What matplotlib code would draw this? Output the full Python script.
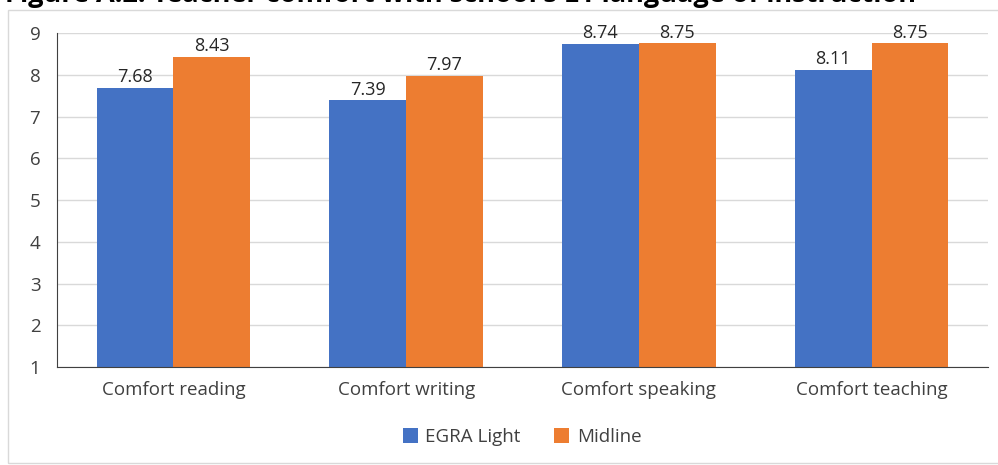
import numpy as np
import matplotlib.pyplot as plt
from matplotlib.patches import Rectangle

categories = ['Comfort reading', 'Comfort writing', 'Comfort speaking', 'Comfort teaching']
egra_light = [7.68, 7.39, 8.74, 8.11]
midline = [8.43, 7.97, 8.75, 8.75]
yticks = [1, 2, 3, 4, 5, 6, 7, 8, 9]

blue = '#4472c4'
orange = '#ed7d31'
plt.rcParams['font.family'] = ['Open Sans', 'DejaVu Sans']

fig = plt.figure(figsize=(9.98, 4.65), dpi=100)
ax = fig.add_axes([57 / 998, 1 - 367 / 465, (988 - 57) / 998, (367 - 33) / 465])

# chart frame
fig.patches.append(Rectangle((8 / 998, 0.005), 1.0, 1 - 10 / 465 - 0.005,
                             transform=fig.transFigure, fill=False,
                             edgecolor='#d9d9d9', linewidth=1.0))

fig.text(5 / 998, 1 + 5 / 465, "Figure A.2. Teacher comfort with school's L1 language of instruction",
         fontsize=19.5, fontweight='bold', ha='left', va='center', color='#000000')

x = np.arange(len(categories))
w = 0.33
b1 = ax.bar(x - w / 2, np.array(egra_light) - 1, w, bottom=1, color=blue, label='EGRA Light', zorder=3)
b2 = ax.bar(x + w / 2, np.array(midline) - 1, w, bottom=1, color=orange, label='Midline', zorder=3)

for xi, v in zip(x - w / 2, egra_light):
    ax.text(xi, v + 0.04, f'{v:.2f}', ha='center', va='bottom', fontsize=13, color='#262626')
for xi, v in zip(x + w / 2, midline):
    ax.text(xi, v + 0.04, f'{v:.2f}', ha='center', va='bottom', fontsize=13, color='#262626')

ax.set_xlim(-0.5, len(categories) - 0.5)
ax.set_ylim(1, 9)
ax.set_yticks(yticks)
ax.set_xticks(x)
ax.set_xticklabels(categories)
ax.tick_params(axis='both', length=0, labelsize=13.5, colors='#404040')
ax.tick_params(axis='x', pad=10)
ax.tick_params(axis='y', pad=12)
ax.grid(axis='y', color='#d9d9d9', linewidth=1.0, zorder=0)
for s in ['top', 'right']:
    ax.spines[s].set_visible(False)
ax.spines['left'].set_color('#404040')
ax.spines['bottom'].set_color('#404040')
ax.spines['left'].set_zorder(4)
ax.spines['bottom'].set_zorder(4)

fig.legend(handles=[b1, b2], loc='center', bbox_to_anchor=(522 / 998, 1 - 437 / 465), ncol=2,
           frameon=False, fontsize=13.5, handlelength=0.8, handleheight=0.8,
           handletextpad=0.4, columnspacing=1.8, labelcolor='#404040')

fig.savefig('out.png', dpi=100)
